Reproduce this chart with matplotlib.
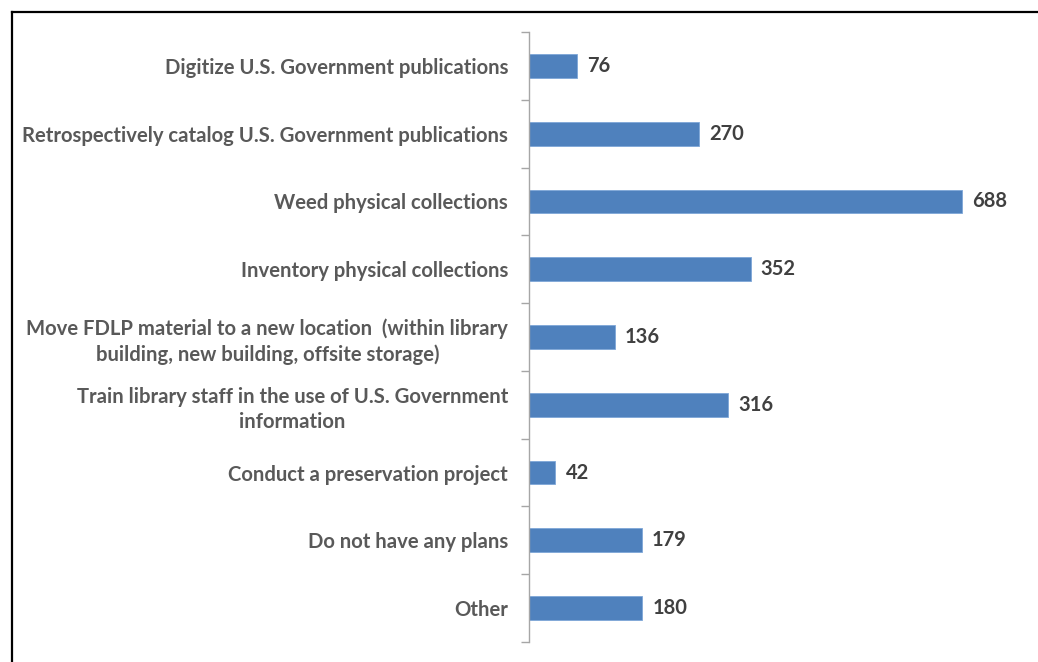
import matplotlib.pyplot as plt
from matplotlib.lines import Line2D

# -------- DATA --------
categories = [
    "Digitize U.S. Government publications",
    "Retrospectively catalog U.S. Government publications",
    "Weed physical collections",
    "Inventory physical collections",
    "Move FDLP material to a new location  (within library\nbuilding, new building, offsite storage)",
    "Train library staff in the use of U.S. Government\ninformation",
    "Conduct a preservation project",
    "Do not have any plans",
    "Other",
]
counts = [76, 270, 688, 352, 136, 316, 42, 179, 180]

plt.rcParams["font.family"] = ["Lato", "DejaVu Sans"]

fig = plt.figure(figsize=(10.38, 6.62), dpi=100)
ax = fig.add_axes([0.5096, 0.0302, 0.46, 0.9215])

pos = list(range(len(categories)))
ax.barh(pos, counts, height=0.35, color="#4F81BD", edgecolor="#7EA6D8", linewidth=0.6)

for y, v in zip(pos, counts):
    ax.text(v + 16, y, str(v), va="center", ha="left", fontsize=14.5,
            fontweight="bold", color="#404040")

ax.set_ylim(len(categories) - 0.5, -0.5)
ax.set_xlim(0, 758)

# category boundary ticks
ax.set_yticks([i - 0.5 for i in range(len(categories) + 1)])
ax.set_yticklabels([])
ax.tick_params(axis="y", which="major", length=5.5, width=1, color="#A6A6A6", direction="out")

# labels at centers
ax.set_yticks(pos, minor=True)
ax.set_yticklabels(categories, minor=True, fontsize=14.6, fontweight="bold",
                   color="#595959", multialignment="center", linespacing=1.3)
ax.tick_params(axis="y", which="minor", length=0, pad=15)

ax.set_xticks([])
for s in ["top", "right", "bottom"]:
    ax.spines[s].set_visible(False)
ax.spines["left"].set_color("#A6A6A6")
ax.spines["left"].set_linewidth(1)

# frame lines (top and left)
fig.add_artist(Line2D([12 / 1038, 1], [1 - 12 / 662, 1 - 12 / 662], color="black", linewidth=1.6))
fig.add_artist(Line2D([12 / 1038, 12 / 1038], [0, 1 - 12 / 662], color="black", linewidth=1.6))

plt.savefig("out.png", dpi=100)
